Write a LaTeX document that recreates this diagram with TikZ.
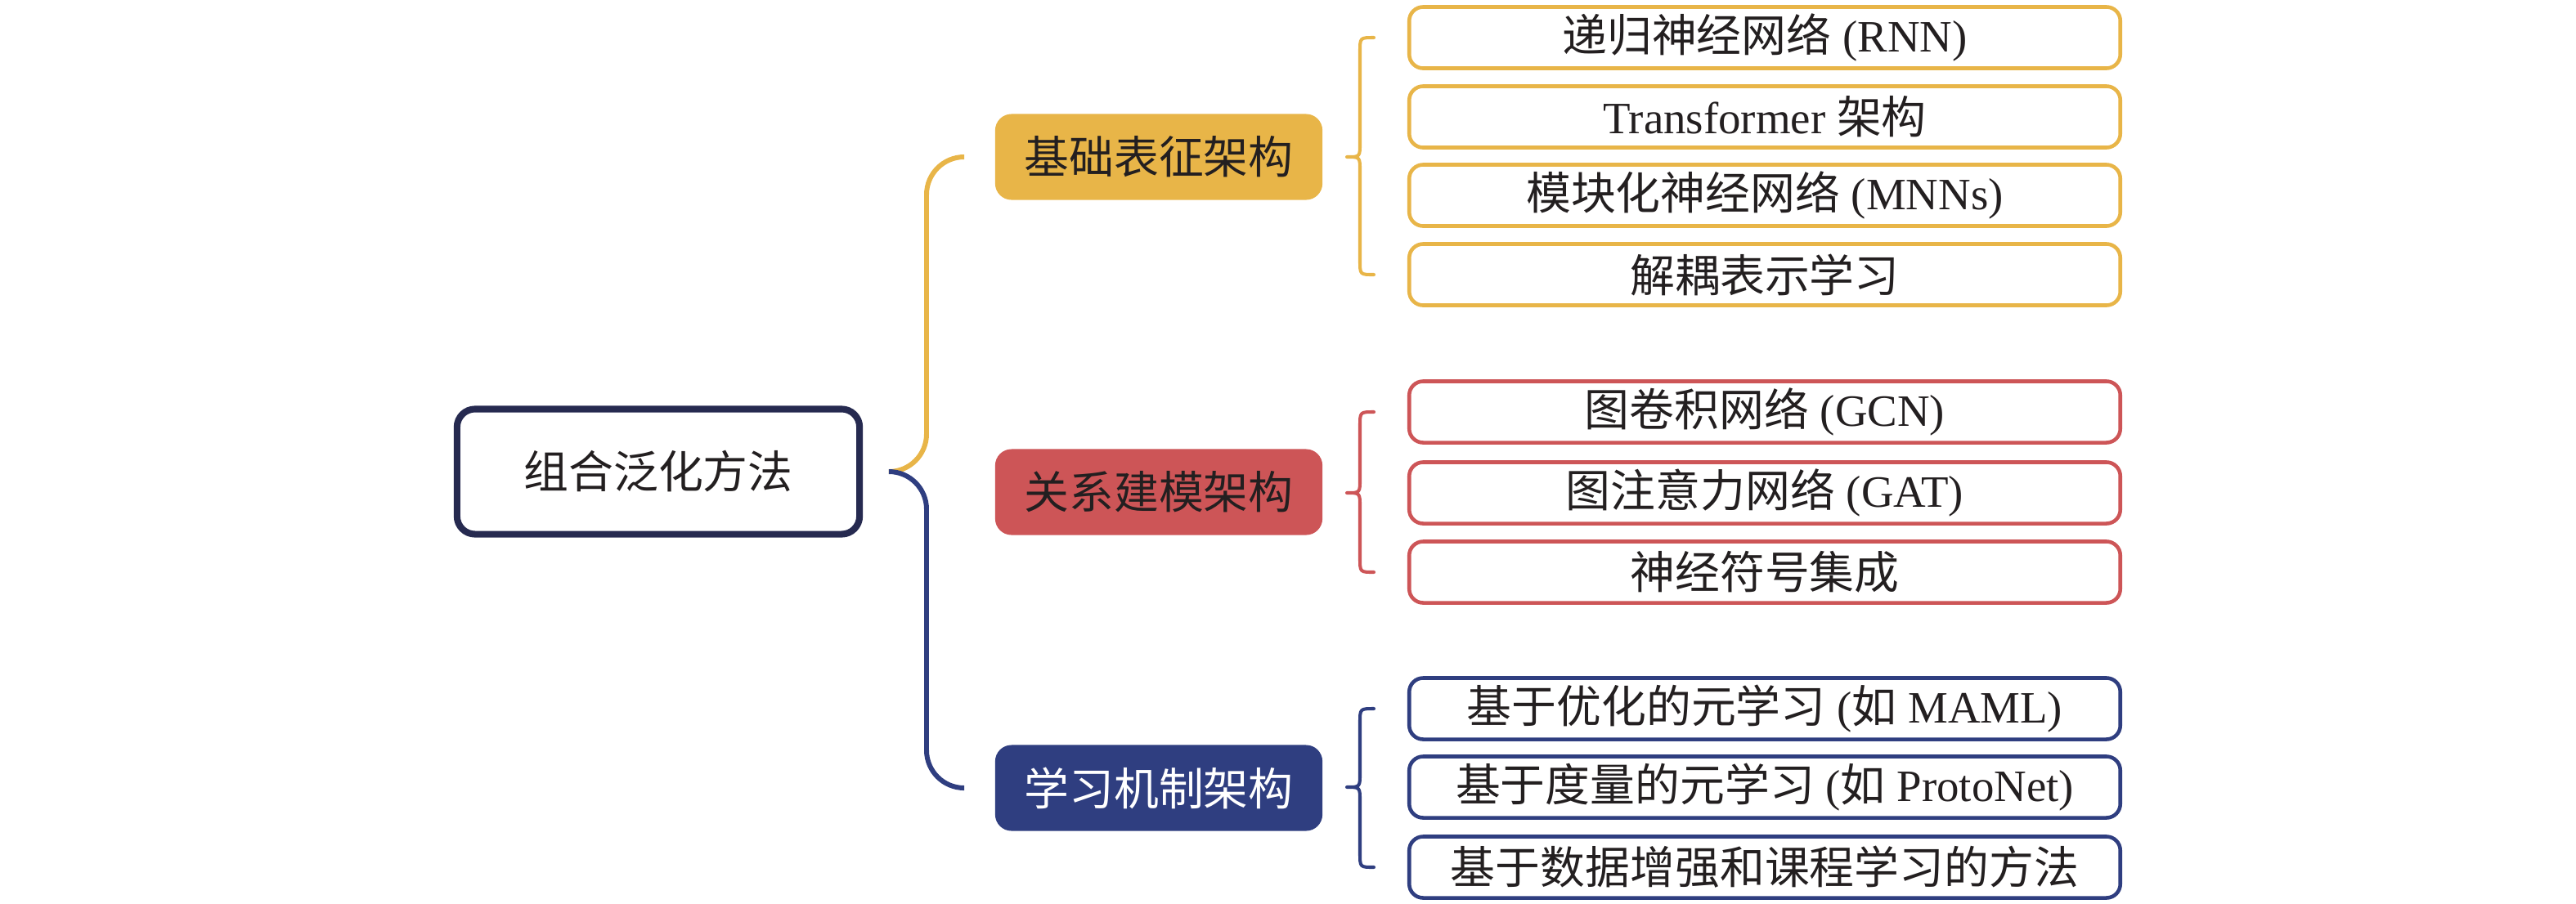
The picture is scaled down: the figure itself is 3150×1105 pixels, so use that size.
\documentclass[tikz,border=0pt]{standalone}
\usepackage{fontspec}
\setmainfont{Liberation Serif}
\newfontfamily\cjk{Noto Sans CJK SC}
\definecolor{ocol}{HTML}{E8B548}
\definecolor{rcol}{HTML}{CD5557}
\definecolor{bcol}{HTML}{2F3E80}
\definecolor{rootcol}{HTML}{262A50}
\definecolor{txt}{HTML}{231F20}
\newcommand\drawbrace[4]{%
  \draw[bracestyle,draw=#1] (1680,#2) .. controls (1663,#2) .. (1663,#2+17)
    -- (1663,#3-17) .. controls (1663,#3) .. (1647,#3)
    .. controls (1663,#3) .. (1663,#3+17)
    -- (1663,#4-17) .. controls (1663,#4) .. (1680,#4);}
\begin{document}
\begin{tikzpicture}[x=0.01cm,y=-0.01cm,
  every node/.style={font=\fontsize{15.6pt}{18pt}\selectfont, text=txt, inner sep=0pt},
  rootbox/.style={draw=rootcol, line width=2.3pt, rounded corners=2.2mm, fill=white,
    minimum width=4.92cm, minimum height=1.53cm},
  midbox/.style={rounded corners=2mm, minimum width=4cm, minimum height=1.05cm},
  leafbox/.style={draw=#1, line width=1.3pt, rounded corners=1.7mm, fill=white,
    minimum width=8.69cm, minimum height=0.75cm},
  conn/.style={line width=1.7pt, rounded corners=4.6mm},
  bracestyle/.style={line width=1.15pt, line cap=round, line join=round}]
\useasboundingbox (0,0) rectangle (3150,1105);

% root
\node[rootbox] (root) at (805,577) {\cjk 组合泛化方法};

% middle level
\node[midbox, fill=ocol] (ma) at (1417,192) {\cjk 基础表征架构};
\node[midbox, fill=rcol] (mb) at (1417,602) {\cjk 关系建模架构};
\node[midbox, fill=bcol, text=white] (mc) at (1417,964) {\cjk 学习机制架构};

% leaves group 1
\node[leafbox=ocol] (a1) at (2158,46) {{\cjk 递归神经网络} (RNN)};
\node[leafbox=ocol] (a2) at (2158,143) {Transformer {\cjk 架构}};
\node[leafbox=ocol] (a3) at (2158,239) {{\cjk 模块化神经网络} (MNNs)};
\node[leafbox=ocol] (a4) at (2158,336) {\cjk 解耦表示学习};

% leaves group 2
\node[leafbox=rcol] (b1) at (2158,504) {{\cjk 图卷积网络} (GCN)};
\node[leafbox=rcol] (b2) at (2158,603) {{\cjk 图注意力网络} (GAT)};
\node[leafbox=rcol] (b3) at (2158,700) {\cjk 神经符号集成};

% leaves group 3
\node[leafbox=bcol] (c1) at (2158,867) {{\cjk 基于优化的元学习} ({\cjk 如} MAML)};
\node[leafbox=bcol] (c2) at (2158,963) {{\cjk 基于度量的元学习} ({\cjk 如} ProtoNet)};
\node[leafbox=bcol] (c3) at (2158,1061) {\cjk 基于数据增强和课程学习的方法};

% connectors from root
\coordinate (rs) at ([xshift=3.2mm]root.east);
\coordinate (xv) at (1133,0);
\coordinate (ea) at ([xshift=-3.9mm]ma.west);
\coordinate (ec) at ([xshift=-3.9mm]mc.west);
\draw[conn, draw=ocol] (rs) -- (rs -| xv) -- (xv |- ea) -- (ea);
\draw[conn, draw=bcol] (rs) -- (rs -| xv) -- (xv |- ec) -- (ec);

% braces
\drawbrace{ocol}{46}{192}{336}
\drawbrace{rcol}{504}{603}{700}
\drawbrace{bcol}{867}{963}{1061}
\end{tikzpicture}
\end{document}
